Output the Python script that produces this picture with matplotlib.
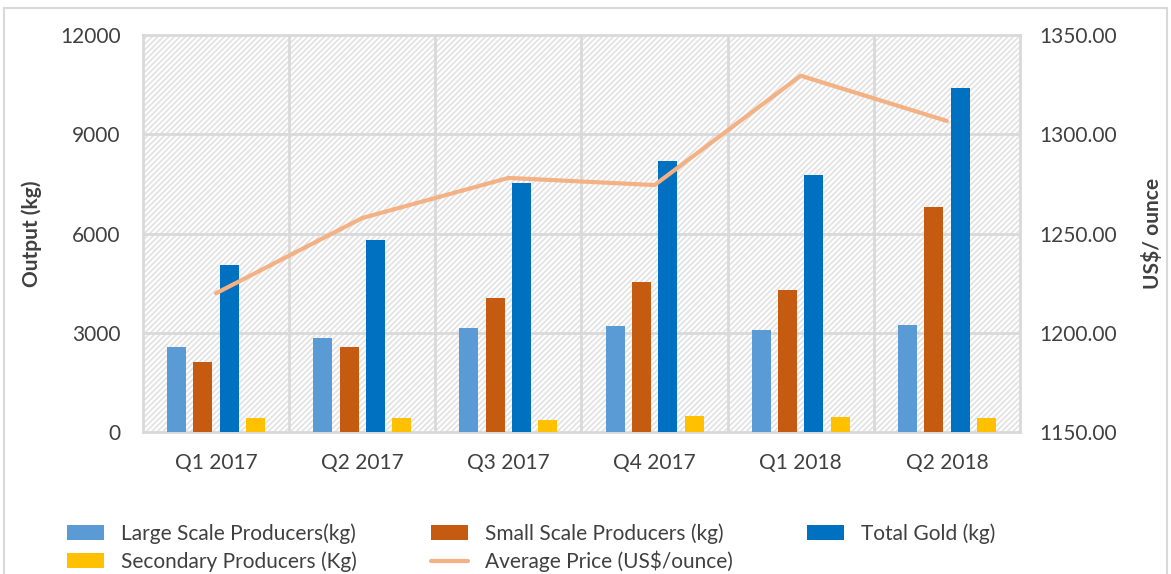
import matplotlib.pyplot as plt
import matplotlib.patches as mpatches
import numpy as np

quarters = ['Q1 2017', 'Q2 2017', 'Q3 2017', 'Q4 2017', 'Q1 2018', 'Q2 2018']
large = [2570, 2840, 3130, 3190, 3070, 3220]
small = [2110, 2570, 4060, 4530, 4290, 6790]
total = [5060, 5800, 7520, 8180, 7760, 10390]
secondary = [430, 430, 360, 490, 445, 425]
price = [1219.9, 1257.8, 1278.0, 1274.4, 1329.5, 1306.7]

plt.rcParams['font.family'] = ['Lato', 'DejaVu Sans']
plt.rcParams['hatch.linewidth'] = 1.3
txt = '#404040'
grid = '#d9d9d9'

fig = plt.figure(figsize=(11.71, 5.74), dpi=100)
ax = fig.add_axes([0.1221, 0.2474, 0.7489, 0.6916])

x = np.arange(len(quarters))
w = 0.13
step = 0.18
ax.set_xlim(-0.5, len(quarters) - 0.5)
ax.set_ylim(0, 12000)

# hatched background
ax.add_patch(mpatches.Rectangle((0, 0), 1, 1, transform=ax.transAxes,
                                facecolor='white', edgecolor='#e3e3e3',
                                hatch='//////', linewidth=0, zorder=0))
for yv in [3000, 6000, 9000]:
    ax.axhline(yv, color=grid, lw=2, zorder=1)
for xv in np.arange(0.5, len(quarters) - 0.5, 1):
    ax.axvline(xv, color=grid, lw=2, zorder=1)

b1 = ax.bar(x - 1.5 * step, large, w, color='#5b9bd5', zorder=3)
b2 = ax.bar(x - 0.5 * step, small, w, color='#c55a11', zorder=3)
b3 = ax.bar(x + 0.5 * step, total, w, color='#0070c0', zorder=3)
b4 = ax.bar(x + 1.5 * step, secondary, w, color='#ffc000', zorder=3)

for s in ax.spines.values():
    s.set_color(grid)
    s.set_linewidth(2)

ax.set_yticks([0, 3000, 6000, 9000, 12000])
ax.set_xticks(x)
ax.set_xticklabels(quarters)
ax.tick_params(length=0, labelsize=15, colors=txt, pad=15)
ax.tick_params(axis='y', pad=16)
ax.set_ylabel('Output (kg)', fontsize=15, fontweight='bold', color=txt, labelpad=13)

ax2 = ax.twinx()
ax2.set_ylim(1150, 1350)
ax2.set_yticks([1150, 1200, 1250, 1300, 1350])
ax2.set_yticklabels(['%.2f' % v for v in [1150, 1200, 1250, 1300, 1350]])
ax2.tick_params(length=0, labelsize=15, colors=txt, pad=14)
for s in ax2.spines.values():
    s.set_visible(False)
ln, = ax2.plot(x, price, color='#f4b183', lw=3, solid_capstyle='round', zorder=4)
ax2.set_ylabel('US$/ ounce', fontsize=15, fontweight='bold', color=txt, labelpad=18)

# figure frame
fig.add_artist(mpatches.Rectangle((0.003, -0.01), 0.994, 0.996, transform=fig.transFigure,
                                  fill=False, edgecolor=grid, lw=1.5))

handles = [b1, b4, b2, ln, b3]
labels = ['Large Scale Producers(kg)', 'Secondary Producers (Kg)',
          'Small Scale Producers (kg)', 'Average Price (US$/ounce)',
          'Total Gold (kg)']
fig.legend(handles, labels, ncol=3, loc='lower left', bbox_to_anchor=(0.041, -0.03),
           frameon=False, fontsize=15, labelcolor=txt, handlelength=1.8,
           handleheight=0.75, columnspacing=3.55, handletextpad=0.8, labelspacing=0.33)

fig.savefig('out.png', dpi=100)
